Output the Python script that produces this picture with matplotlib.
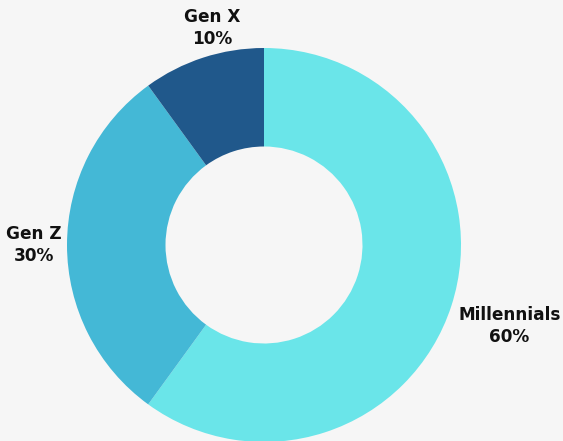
import matplotlib.pyplot as plt

# donut data
labels = ["Millennials", "Gen Z", "Gen X"]
shares = [60, 30, 10]
colors = ["#6ae5e9", "#44b8d6", "#20588b"]

fig = plt.figure(figsize=(5.63, 4.41), dpi=100)
fig.patch.set_facecolor("#f6f6f6")

# axes placed so the pie center sits at (264, 245) px with radius ~197 px
W, H = 563.0, 441.0
R = 197.0
half = 200.0
ax = fig.add_axes([(264 - half) / W, (H - 245 - half) / H, 2 * half / W, 2 * half / H])
ax.set_facecolor("none")

ax.pie(shares, colors=colors, startangle=90, counterclock=False,
       radius=1.0, wedgeprops=dict(width=0.5, edgecolor="none"))

ax.set_xlim(-half / R, half / R)
ax.set_ylim(-half / R, half / R)
ax.set_aspect("equal")
ax.axis("off")

# label positions (data units, radius = 1)
label_pos = [(1.245, -0.41), (-1.168, 0.0), (-0.264, 1.10)]
for name, val, (x, y) in zip(labels, shares, label_pos):
    ax.text(x, y, f"{name}\n{val}%", ha="center", va="center",
            fontsize=12.2, fontweight="bold", family="DejaVu Sans",
            linespacing=1.3, color="#111111", clip_on=False)

fig.savefig("out.png", dpi=100, facecolor=fig.get_facecolor())
